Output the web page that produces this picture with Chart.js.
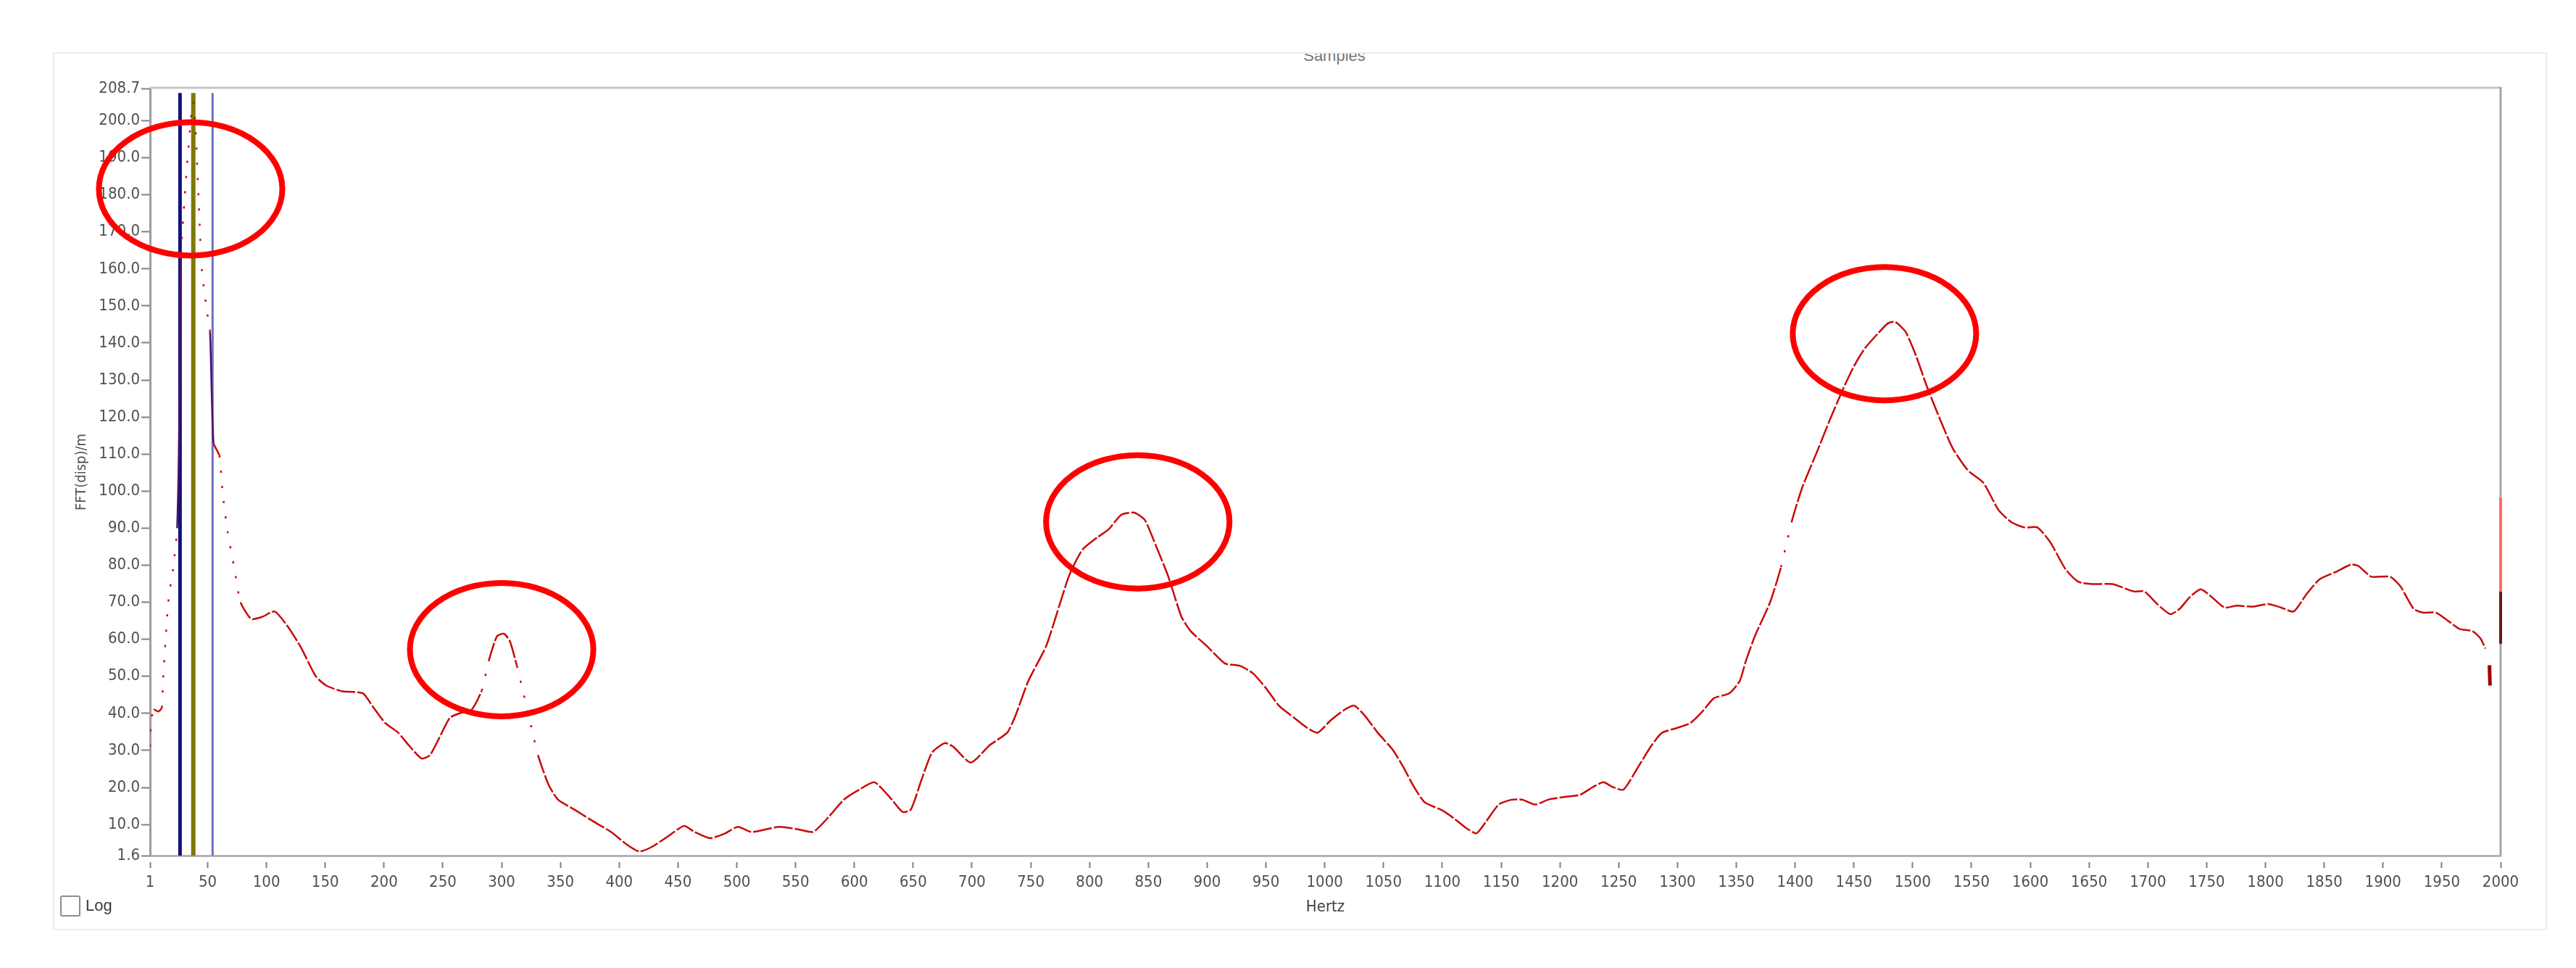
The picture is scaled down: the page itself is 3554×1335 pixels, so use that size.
<!DOCTYPE html>
<html>
<head>
<meta charset="utf-8">
<title>Samples</title>
<script src="https://cdn.jsdelivr.net/npm/chart.js@4.4.1/dist/chart.umd.min.js"></script>
<style>
  html, body { margin: 0; padding: 0; background: #fff; }
  body { width: 3554px; height: 1335px; position: relative; overflow: hidden; font-family: 'Liberation Sans', Arial, sans-serif; }
  #frame { position: absolute; left: 73px; top: 72px; width: 3437px; height: 1207px; border: 2px solid #ededed; }
  #titleClip { position: absolute; left: 0; top: 74px; width: 3554px; height: 16px; overflow: hidden; }
  #title { position: absolute; left: 1841px; top: -10px; transform: translateX(-50%); font-size: 22px; color: #777; }
  #chart { position: absolute; left: 0; top: 0; }
  #logBox { position: absolute; left: 83px; top: 1235px; width: 24px; height: 25px; border: 2px solid #8c8c8c; border-radius: 3px; background: #fff; }
  #logText { position: absolute; left: 118px; top: 1236px; font-size: 22px; color: #3a3a3a; }
</style>
</head>
<body>
<div id="frame"></div>
<div id="titleClip"><div id="title">Samples</div></div>
<canvas id="chart" width="3554" height="1335"></canvas>
<div id="logBox"></div>
<div id="logText">Log</div>
<script>
// spectrum (Hz, amplitude)
const freqHz = [1, 2, 4, 8, 11, 12, 16.5, 21, 24, 25.5, 26.5, 27.3, 37.8, 45, 49.5, 52, 55, 60, 62.7, 67, 72.5, 78, 87, 96, 107, 118, 129, 142, 151, 164, 182, 190, 201, 212, 221, 232, 239, 247, 256, 265, 274, 283, 289, 296, 302, 307, 313, 322, 331, 340, 348, 362, 375, 393, 406, 417, 428, 441, 455, 464, 477, 490, 501, 512, 525, 536, 552, 565, 578, 591, 604, 617, 630, 641, 648, 657, 666, 677, 684, 699, 715, 730, 737, 748, 763, 774, 783, 794, 807, 816, 827, 838, 847, 856, 867, 878, 886, 900, 915, 928, 939, 950, 961, 974, 985, 994, 1005, 1016, 1025, 1034, 1045, 1058, 1067, 1076, 1085, 1100, 1111, 1120, 1129, 1137, 1148, 1159, 1168, 1179, 1190, 1203, 1217, 1228, 1237, 1245, 1254, 1265, 1278, 1287, 1300, 1311, 1322, 1331, 1344, 1353, 1358, 1366, 1379, 1388, 1397, 1406, 1419, 1430, 1441, 1450, 1459, 1470, 1479, 1485, 1494, 1503, 1512, 1523, 1534, 1547, 1560, 1573, 1584, 1595, 1606, 1617, 1630, 1641, 1653, 1670, 1688, 1697, 1708, 1719, 1727, 1736, 1745, 1754, 1765, 1776, 1789, 1802, 1813, 1824, 1835, 1846, 1860, 1873, 1879, 1890, 1906, 1915, 1926, 1934, 1945, 1956, 1965, 1976, 1983, 1987];
const fftAmp = [31, 38, 41, 40.5, 41.5, 48.8, 70, 80, 90, 110, 135, 164, 205, 160, 148.4, 143, 113, 109.6, 99.6, 89, 79.5, 70, 65.5, 66, 67.5, 63.5, 58, 50, 47.5, 46, 45.4, 42, 37.4, 34.8, 31.4, 27.8, 28.7, 33.4, 38.8, 40.1, 40.8, 46.1, 54.1, 60.8, 61.5, 59.5, 52.8, 40.8, 28.7, 20.7, 16.7, 14, 11.4, 8, 4.7, 2.7, 4, 6.7, 9.6, 8, 6.3, 7.6, 9.4, 8, 8.7, 9.4, 8.7, 8, 12, 16.7, 19.4, 21.4, 17.4, 13.4, 14, 22, 29.4, 32, 31, 26.7, 31.4, 34.8, 39.4, 48.8, 58.1, 68.8, 77.5, 84.2, 87.6, 89.6, 93.6, 94.2, 92.2, 85.6, 76.9, 66.2, 62.2, 58.1, 53.5, 52.8, 50.8, 46.8, 42.1, 38.8, 36.1, 34.8, 38.1, 40.8, 42.1, 39.4, 34.8, 30.1, 25.4, 20.1, 16, 13.8, 11.4, 9.1, 7.6, 10.7, 15.4, 16.7, 16.7, 15.4, 16.7, 17.4, 18, 20.1, 21.4, 20.1, 19.4, 24.7, 31.4, 34.8, 36.1, 37.4, 40.8, 44.1, 45.4, 48.8, 54, 61, 70.2, 79.5, 91.6, 100.9, 110.9, 119.6, 127.7, 133.7, 138.4, 142.4, 145.3, 145.7, 143, 136.4, 128.3, 119.6, 111.6, 105.6, 102.3, 94.9, 91.6, 90.2, 90.2, 86.2, 78.9, 75.5, 74.9, 74.9, 72.9, 72.9, 69.5, 66.8, 68.2, 71.5, 73.5, 71.5, 68.6, 69.1, 68.8, 69.5, 68.6, 67.5, 72.2, 76.2, 78.2, 80.2, 79.8, 76.9, 76.9, 74.2, 68.2, 67.2, 67.2, 64.8, 62.8, 62.2, 60.2, 57.5];

// broken bit and spike at the right edge
const tailHz = [1990.5, 1991];
const tailAmp = [53, 47.5];
const edgeHz = [2000, 2000, 2000];
const edgeAmp = [58.8, 72.9, 98.2];

// cursor lines
const markerHz = [26.5, 37.8, 54.2];
const markerColors = ['#12127c', '#7d7a00', '#6b70c4'];
const markerWidths = [5, 6, 3];

// red rings drawn over the picture
const ringHz = [35.5, 300, 841, 1476];
const ringAmp = [181.6, 57.2, 91.7, 142.5];
const ringHalfHz = 78;
const ringHalfAmp = 18;

const yMin = 1.6, yMax = 208.7;
const yTickValues = [1.6, 10, 20, 30, 40, 50, 60, 70, 80, 90, 100, 110, 120, 130, 140, 150, 160, 170, 180, 190, 200, 208.7];
const xTickValues = [1, 50, 100, 150, 200, 250, 300, 350, 400, 450, 500, 550, 600, 650, 700, 750, 800, 850, 900, 950, 1000, 1050, 1100, 1150, 1200, 1250, 1300, 1350, 1400, 1450, 1500, 1550, 1600, 1650, 1700, 1750, 1800, 1850, 1900, 1950, 2000];

Chart.defaults.font.family = "'Liberation Sans Narrow', 'DejaVu Sans Condensed', 'Liberation Sans', sans-serif";

const darkZone = (a, b) => (a >= 23.5 && b <= 27.5) || (a >= 51.5 && b <= 55.5);

const datasets = [{
    label: 'FFT',
    data: freqHz.map((x, i) => ({x, y: fftAmp[i]})),
    borderColor: '#c80a0a',
    borderWidth: 2.5,
    pointRadius: 0,
    tension: 0.2,
    segment: {
        borderColor: ctx => darkZone(ctx.p0.parsed.x, ctx.p1.parsed.x) ? '#4a1068' : undefined,
        borderDash: ctx => {
            if (darkZone(ctx.p0.parsed.x, ctx.p1.parsed.x)) return [];
            const dx = Math.abs(ctx.p1.x - ctx.p0.x);
            const dy = Math.abs(ctx.p1.y - ctx.p0.y);
            return dy > 4 * dx ? [3, 18] : [26, 3];
        }
    }
}, {
    label: 'tail',
    data: tailHz.map((x, i) => ({x, y: tailAmp[i]})),
    borderColor: '#a00000',
    borderWidth: 5,
    pointRadius: 0
}, {
    label: 'edge',
    data: edgeHz.map((x, i) => ({x, y: edgeAmp[i]})),
    borderColor: '#ff6a6a',
    borderWidth: 4,
    pointRadius: 0,
    clip: 6,
    segment: {
        borderColor: ctx => ctx.p0DataIndex === 0 ? '#6e1818' : undefined
    }
}];

markerHz.forEach((hz, i) => {
    datasets.push({
        label: 'cursor' + i,
        data: [{x: hz, y: yMin}, {x: hz, y: 207.5}],
        borderColor: markerColors[i],
        borderWidth: markerWidths[i],
        pointRadius: 0
    });
});

const plotFrame = {
    id: 'plotFrame',
    beforeDatasetsDraw(chart) {
        const {ctx, chartArea: a} = chart;
        ctx.save();
        ctx.lineWidth = 3;
        ctx.strokeStyle = '#c4c4c4';
        ctx.beginPath();
        ctx.moveTo(a.left, a.top - 1);
        ctx.lineTo(a.right, a.top - 1);
        ctx.stroke();
        ctx.strokeStyle = '#a6a6a6';
        ctx.beginPath();
        ctx.moveTo(a.right, a.top - 2);
        ctx.lineTo(a.right, a.bottom);
        ctx.stroke();
        ctx.restore();
    }
};

const rings = {
    id: 'rings',
    afterDraw(chart) {
        const {ctx, scales: {x, y}} = chart;
        ctx.save();
        ctx.strokeStyle = '#ff0000';
        ctx.lineWidth = 8;
        ringHz.forEach((hz, i) => {
            const cx = x.getPixelForValue(hz);
            const cy = y.getPixelForValue(ringAmp[i]);
            const rx = Math.abs(x.getPixelForValue(hz + ringHalfHz) - cx);
            const ry = Math.abs(y.getPixelForValue(ringAmp[i] + ringHalfAmp) - cy);
            ctx.beginPath();
            ctx.ellipse(cx, cy, rx, ry, 0, 0, Math.PI * 2);
            ctx.stroke();
        });
        ctx.restore();
    }
};

new Chart(document.getElementById('chart').getContext('2d'), {
    type: 'line',
    data: {datasets},
    options: {
        responsive: false,
        animation: false,
        devicePixelRatio: 1,
        layout: {padding: {left: 75, top: 122, right: 104, bottom: 55}},
        plugins: {legend: {display: false}, tooltip: {enabled: false}},
        scales: {
            x: {
                type: 'linear',
                min: 1,
                max: 2000,
                afterBuildTicks: s => { s.ticks = xTickValues.map(v => ({value: v})); },
                afterFit: s => { s.height = 100; },
                ticks: {autoSkip: false, maxRotation: 0, padding: 7, color: '#505050', font: {size: 22}, callback: v => String(v)},
                grid: {drawOnChartArea: false, tickLength: 17, tickWidth: 2, tickColor: '#808080', tickBorderDash: [0, 7, 10, 60]},
                border: {color: '#b4b4b4', width: 3},
                title: {display: true, text: 'Hertz', color: '#404040', font: {size: 22}, padding: {top: 0, bottom: 16}}
            },
            y: {
                type: 'linear',
                min: yMin,
                max: yMax,
                afterBuildTicks: s => { s.ticks = yTickValues.map(v => ({value: v})); },
                afterFit: s => { s.width = 132; },
                ticks: {autoSkip: false, padding: 2, color: '#505050', font: {size: 22}, callback: v => v.toFixed(1)},
                grid: {drawOnChartArea: false, tickLength: 12, tickWidth: 2, tickColor: '#808080'},
                border: {color: '#9c9c9c', width: 3},
                title: {display: true, text: 'FFT(disp)/m', color: '#505050', font: {size: 20}, padding: {top: 26, bottom: 0}}
            }
        }
    },
    plugins: [plotFrame, rings]
});
</script>
</body>
</html>
